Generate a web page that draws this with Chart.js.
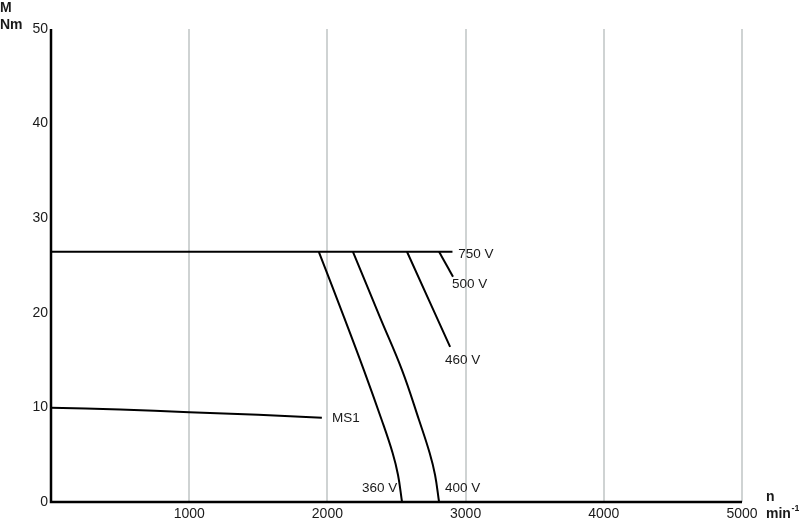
<!DOCTYPE html>
<html><head><meta charset="utf-8">
<script src="https://cdn.jsdelivr.net/npm/chart.js@4/dist/chart.umd.min.js"></script>
<style>html,body{margin:0;padding:0;background:#fff}#wrap{width:799px;height:524px}</style>
</head><body><div id="wrap"><canvas id="c" width="799" height="524"></canvas></div>
<script>
const xTicks = [0, 1000, 2000, 3000, 4000, 5000];
const yTicks = [0, 10, 20, 30, 40, 50];
const v750 = [[0, 26.45], [2905, 26.45]];
const v500 = [[2808, 26.45], [2909, 23.8]];
const v460 = [[2576, 26.45], [2888, 16.4]];
const v400 = [[2185, 26.45], [2380, 19.55], [2540, 13.95], [2663, 8.67], [2740, 5.18], [2779, 2.85], [2808, 0]];
const v360 = [[1938, 26.45], [2120, 19.55], [2264, 13.95], [2393, 8.67], [2472, 5.18], [2511, 2.85], [2540, 0]];
const ms1 = [[0, 9.95], [500, 9.78], [1000, 9.5], [1500, 9.22], [1960, 8.9]];
const curveLabels = [
  {text: '750 V', x: 2946, y: 26.2},
  {text: '500 V', x: 2902, y: 23.0},
  {text: '460 V', x: 2851, y: 15.0},
  {text: '400 V', x: 2851, y: 1.5},
  {text: '360 V', x: 2250, y: 1.5},
  {text: 'MS1', x: 2033, y: 8.8}
];
const toPts = a => a.map(p => ({x: p[0], y: p[1]}));
const FONT = 'Arial, "Liberation Sans", sans-serif';
const mk = (d) => ({data: toPts(d), borderColor: '#000', borderWidth: 2, pointRadius: 0, tension: 0.4, fill: false});

const labelPlugin = {
  id: 'labels',
  afterDatasetsDraw(chart) {
    const {ctx, scales} = chart;
    ctx.save();
    ctx.fillStyle = '#1a1a1a';
    ctx.font = '13.5px ' + FONT;
    ctx.textBaseline = 'middle';
    ctx.textAlign = 'left';
    curveLabels.forEach(l => ctx.fillText(l.text, scales.x.getPixelForValue(l.x), scales.y.getPixelForValue(l.y)));
    ctx.font = 'bold 14px ' + FONT;
    ctx.fillText('M', 0, 8);
    ctx.fillText('Nm', 0, 25);
    ctx.fillText('n', 766, 497);
    ctx.fillText('min', 766, 514);
    const w = ctx.measureText('min').width;
    ctx.font = 'bold 9px ' + FONT;
    ctx.fillText('-1', 766 + w + 0.5, 509);
    ctx.restore();
  }
};
const axisPlugin = {
  id: 'axes',
  afterDatasetsDraw(chart) {
    const {ctx, chartArea: a} = chart;
    ctx.save();
    ctx.strokeStyle = '#000';
    ctx.lineWidth = 2.5;
    ctx.beginPath();
    ctx.moveTo(a.left, a.top);
    ctx.lineTo(a.left, a.bottom);
    ctx.lineTo(a.right, a.bottom);
    ctx.stroke();
    ctx.restore();
  }
};

new Chart(document.getElementById('c'), {
  type: 'line',
  data: {datasets: [mk(v750), mk(v500), mk(v460), mk(v400), mk(v360), mk(ms1)]},
  options: {
    responsive: false,
    animation: false,
    events: [],
    layout: {padding: {left: 0, right: 57, top: 29, bottom: 0}},
    plugins: {legend: {display: false}, tooltip: {enabled: false}},
    scales: {
      x: {
        type: 'linear', min: 0, max: 5000,
        afterBuildTicks: s => { s.ticks = xTicks.map(v => ({value: v})); },
        afterFit: s => { s.height = 22; },
        grid: {color: ctx => ctx.tick && ctx.tick.value === 0 ? 'rgba(0,0,0,0)' : '#cfd3d3', lineWidth: 2, drawTicks: false},
        border: {display: false},
        ticks: {padding: 4, color: '#1a1a1a', font: {family: FONT, size: 14}, callback: v => v === 0 ? '' : String(v), maxRotation: 0}
      },
      y: {
        type: 'linear', min: 0, max: 50,
        afterBuildTicks: s => { s.ticks = yTicks.map(v => ({value: v})); },
        afterFit: s => { s.width = 51; },
        grid: {display: false, drawTicks: false},
        border: {display: false},
        ticks: {padding: 3, color: '#1a1a1a', font: {family: FONT, size: 14}}
      }
    }
  },
  plugins: [labelPlugin, axisPlugin]
});
</script></body></html>
